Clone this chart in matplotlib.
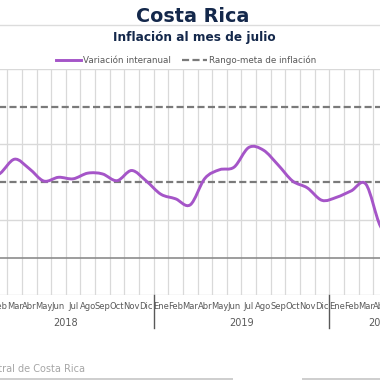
import numpy as np
import matplotlib.pyplot as plt
import matplotlib.transforms as mtransforms
from matplotlib.path import Path
from matplotlib.patches import PathPatch, Rectangle
from matplotlib.lines import Line2D

# Datos: inflación interanual (%) Costa Rica, ene-2018 a jul-2020
meses = ['Ene', 'Feb', 'Mar', 'Abr', 'May', 'Jun', 'Jul', 'Ago', 'Sep', 'Oct', 'Nov', 'Dic']
anios = ['2018', '2019', '2020']
meses_por_anio = [12, 12, 7]

inflacion_2018 = [2.05, 2.23, 2.61, 2.36, 2.03, 2.13, 2.09, 2.24, 2.22, 2.04, 2.31, 2.03]
inflacion_2019 = [1.68, 1.56, 1.40, 2.10, 2.33, 2.40, 2.92, 2.85, 2.46, 2.03, 1.85, 1.52]
inflacion_2020 = [1.60, 1.77, 1.95, 0.83, 0.45, 0.10, 0.45]

meta_inferior = 2.0
meta_superior = 4.0

fuente_tx = ['Liberation Sans Narrow', 'DejaVu Sans']
fuente_titulo = ['DejaVu Sans']

inflacion = inflacion_2018 + inflacion_2019 + inflacion_2020
x = np.arange(len(inflacion))
etiquetas = []
for n in meses_por_anio:
    etiquetas += meses[:n]


# curva suavizada tipo Excel (bezier por los puntos)
def curva_suave(xs, ys):
    pts = np.column_stack([xs, ys]).astype(float)
    p = np.vstack([pts[0], pts, pts[-1]])
    verts = [pts[0]]
    codes = [Path.MOVETO]
    for i in range(1, len(p) - 2):
        c1 = p[i] + (p[i + 1] - p[i - 1]) / 6
        c2 = p[i + 1] - (p[i + 2] - p[i]) / 6
        verts += [c1, c2, p[i + 1]]
        codes += [Path.CURVE4] * 3
    return Path(verts, codes)


fig = plt.figure(figsize=(3.8, 3.8), dpi=100)
ax = fig.add_axes([-22 / 380, (380 - 295.4) / 380, 453.7 / 380, (295.4 - 69) / 380])
ax.set_xlim(-0.5, len(inflacion) - 0.5)
ax.set_ylim(-1, 5)
for s in ax.spines.values():
    s.set_visible(False)
ax.set_yticks([])

# rejilla
for b in np.arange(0.5, len(inflacion) - 1, 1):
    ax.axvline(b, color='#d9d9d9', lw=0.9, zorder=0)
for yv in [-1, 1, 3, 5]:
    ax.axhline(yv, color='#d9d9d9', lw=1, zorder=0)
ax.axhline(0, color='#8c8c8c', lw=1.2, zorder=1)

# rango meta
ax.axhline(meta_superior, color='#7a7a7a', lw=1.6, ls=(0, (3.2, 1.5)), zorder=2)
ax.axhline(meta_inferior, color='#7a7a7a', lw=1.6, ls=(0, (3.2, 1.5)), zorder=2)

ax.add_patch(PathPatch(curva_suave(x, inflacion), facecolor='none',
                       edgecolor='#A555C8', lw=2.1, zorder=3, capstyle='round'))

# eje x con meses y años
ax.set_xticks(x)
ax.set_xticklabels(etiquetas, family=fuente_tx, fontsize=6.0, color='#595959')
ax.tick_params(axis='x', length=0, pad=5)

trans = mtransforms.blended_transform_factory(ax.transData, ax.transAxes)
inicio = -0.5
for anio, n in zip(anios, meses_por_anio):
    ax.text(inicio + n / 2, -0.1206, anio, transform=trans, ha='center', va='center',
            family=fuente_tx, fontsize=7, color='#595959')
    ax.plot([inicio, inicio], [0, -0.1457], transform=trans, clip_on=False,
            color='#595959', lw=1)
    inicio += n

# títulos
fig.text(193 / 380, 1 - 16 / 380, 'Costa Rica', ha='center', va='center',
         family=fuente_titulo, fontweight='bold', fontsize=13.8, color='#14284B')
fig.add_artist(Line2D([0, 1], [1 - 25 / 380] * 2, color='#dcdcdc', lw=1))
fig.text(194 / 380, 1 - 38 / 380, 'Inflación al mes de julio', ha='center', va='center',
         family=fuente_titulo, fontweight='bold', fontsize=8.7, color='#14284B')

# leyenda
h1 = Line2D([], [], color='#A555C8', lw=2.1)
h2 = Line2D([], [], color='#7a7a7a', lw=1.6, ls=(0, (3.2, 1.5)))
fig.legend([h1, h2], ['Variación interanual', 'Rango-meta de inflación'],
           loc='center', bbox_to_anchor=(186 / 380, 1 - 60 / 380), ncol=2, frameon=False,
           prop={'family': fuente_tx, 'size': 6.3}, labelcolor='#595959',
           handlelength=2.9, handletextpad=0.15, columnspacing=1.3, borderpad=0)

# fuente
fig.text(85 / 380, 1 - 368.5 / 380, 'Fuente: Banco Central de Costa Rica', ha='right',
         va='center', family=fuente_tx, fontsize=7, color='#a6a6a6')

# barras grises inferiores
fig.add_artist(Rectangle((0, 0), 233 / 380, 2.5 / 380, transform=fig.transFigure,
                         color='#cfcfcf', lw=0))
fig.add_artist(Rectangle((302 / 380, 0), 78 / 380, 2.5 / 380, transform=fig.transFigure,
                         color='#cfcfcf', lw=0))

fig.savefig('out.png', dpi=100)
